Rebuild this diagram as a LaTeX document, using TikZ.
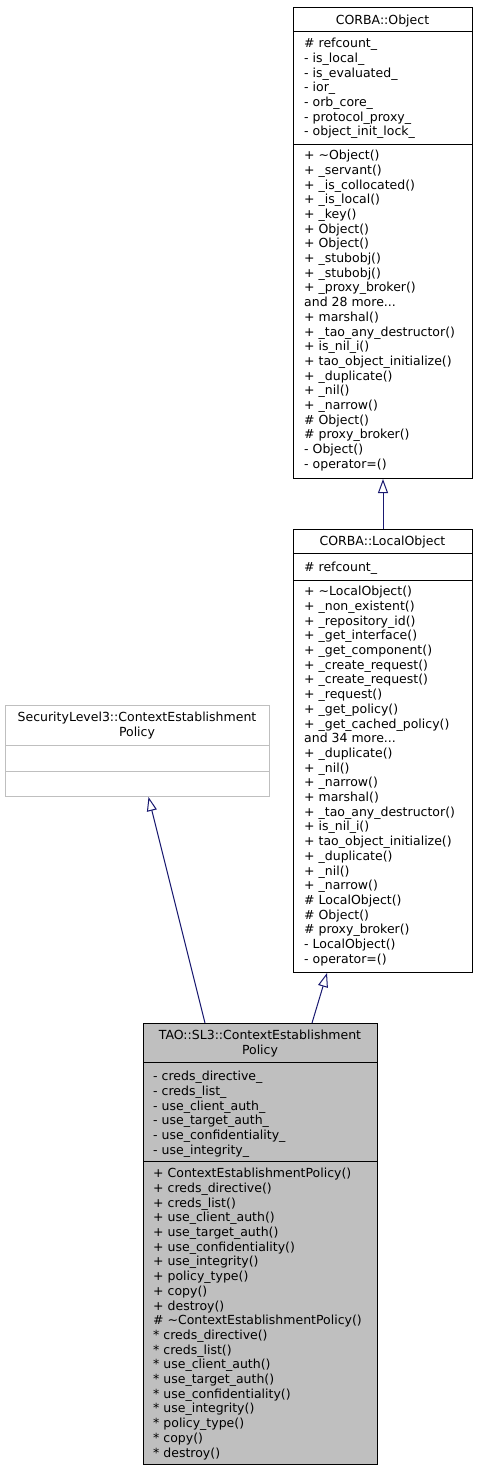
\documentclass[tikz,border=0pt]{standalone}
\usepackage{fontspec}
\setmainfont{DejaVu Sans}
\usetikzlibrary{arrows.meta,calc}
\definecolor{navyline}{HTML}{191970}
\definecolor{grayfill}{HTML}{BFBFBF}
\definecolor{grayborder}{HTML}{BFBFBF}
\begin{document}
\begin{tikzpicture}[x=1bp,y=-1bp,
  txt/.style={font=\fontsize{12.5bp}{14.7bp}\selectfont, inner sep=0pt, align=left, anchor=north west},
  ttl/.style={font=\fontsize{12.5bp}{14.7bp}\selectfont, inner sep=0pt, align=center, anchor=north},
  box/.style={draw=black, line width=1bp, inner sep=0pt, anchor=north west},
  sep/.style={draw=black, line width=1bp},
  inh/.style={draw=navyline, line width=1bp, -{Triangle[open,length=14bp,width=10bp]}}]
\useasboundingbox[fill=white] (0,0) rectangle (477,1472);

% CORBA::Object
\node[box, minimum width=179bp, minimum height=471bp] (obj) at (293,7) {};
\draw[sep] (293,32) -- (472,32);
\draw[sep] (293,145) -- (472,145);
\node[ttl] (objT) at (382.5,13.7) {\strut CORBA::Object};
\node[txt] (objA) at (304,37.2) {\strut\# refcount\_\\- is\_local\_\\- is\_evaluated\_\\- ior\_\\- orb\_core\_\\- protocol\_proxy\_\\- object\_init\_lock\_};
\node[txt] (objM) at (304,149.2) {\strut+ \textasciitilde Object()\\+ \_servant()\\+ \_is\_collocated()\\+ \_is\_local()\\+ \_key()\\+ Object()\\+ Object()\\+ \_stubobj()\\+ \_stubobj()\\+ \_proxy\_broker()\\and 28 more...\\+ marshal()\\+ \_tao\_any\_destructor()\\+ is\_nil\_i()\\+ tao\_object\_initialize()\\+ \_duplicate()\\+ \_nil()\\+ \_narrow()\\\# Object()\\\# proxy\_broker()\\- Object()\\- operator=()};

% CORBA::LocalObject
\node[box, minimum width=179bp, minimum height=443bp] (lo) at (293,529) {};
\draw[sep] (293,553) -- (472,553);
\draw[sep] (293,580) -- (472,580);
\node[ttl] (loT) at (382.5,535.2) {\strut CORBA::LocalObject};
\node[txt] (loA) at (304,561.2) {\strut\# refcount\_};
\node[txt] (loM) at (304,585.2) {\strut+ \textasciitilde LocalObject()\\+ \_non\_existent()\\+ \_repository\_id()\\+ \_get\_interface()\\+ \_get\_component()\\+ \_create\_request()\\+ \_create\_request()\\+ \_request()\\+ \_get\_policy()\\+ \_get\_cached\_policy()\\and 34 more...\\+ \_duplicate()\\+ \_nil()\\+ \_narrow()\\+ marshal()\\+ \_tao\_any\_destructor()\\+ is\_nil\_i()\\+ tao\_object\_initialize()\\+ \_duplicate()\\+ \_nil()\\+ \_narrow()\\\# LocalObject()\\\# Object()\\\# proxy\_broker()\\- LocalObject()\\- operator=()};

% SecurityLevel3::ContextEstablishmentPolicy
\node[box, draw=grayborder, minimum width=264bp, minimum height=91bp] (sl3) at (5,705) {};
\draw[sep, draw=grayborder] (5,745) -- (269,745);
\draw[sep, draw=grayborder] (5,771) -- (269,771);
\node[ttl] (sl3T) at (137,711.2) {\strut SecurityLevel3::ContextEstablishment\\Policy};

% TAO::SL3::ContextEstablishmentPolicy
\node[box, fill=grayfill, minimum width=234bp, minimum height=441bp] (tao) at (143,1023) {};
\draw[sep] (143,1062) -- (377,1062);
\draw[sep] (143,1161) -- (377,1161);
\node[ttl] (taoT) at (260,1029.2) {\strut TAO::SL3::ContextEstablishment\\Policy};
\node[txt] (taoA) at (153,1070.2) {\strut- creds\_directive\_\\- creds\_list\_\\- use\_client\_auth\_\\- use\_target\_auth\_\\- use\_confidentiality\_\\- use\_integrity\_};
\node[txt] (taoM) at (153,1167.2) {\strut+ ContextEstablishmentPolicy()\\+ creds\_directive()\\+ creds\_list()\\+ use\_client\_auth()\\+ use\_target\_auth()\\+ use\_confidentiality()\\+ use\_integrity()\\+ policy\_type()\\+ copy()\\+ destroy()\\\# \textasciitilde ContextEstablishmentPolicy()\\* creds\_directive()\\* creds\_list()\\* use\_client\_auth()\\* use\_target\_auth()\\* use\_confidentiality()\\* use\_integrity()\\* policy\_type()\\* copy()\\* destroy()};

% inheritance arrows
\draw[inh] (lo.north) -- (obj.south);
\draw[inh] ($(tao.north west)+(62bp,0)$) -- ($(sl3.south)+(11bp,0)$);
\draw[inh] ($(tao.north west)+(169bp,0)$) -- ($(lo.south west)+(34bp,0)$);
\end{tikzpicture}
\end{document}
